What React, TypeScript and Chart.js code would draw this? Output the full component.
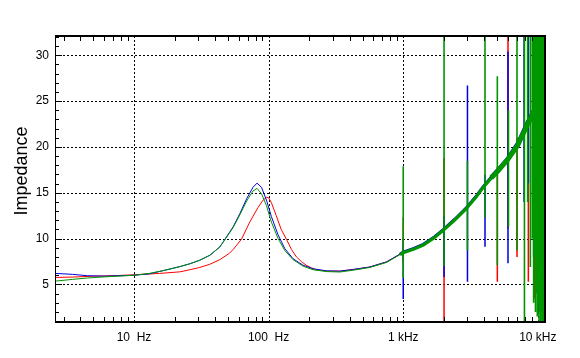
import { useEffect, useRef } from "react";
import { Chart, registerables } from "chart.js";

Chart.register(...registerables);

const X_MIN = 2.59;
const X_MAX = 11300;
const Y_MIN = 0.9;
const Y_MAX = 32.1;

const xTickValues = [10, 100, 1000, 10000];
const xTickLabels = ["10  Hz", "100  Hz", "1 kHz", "10 kHz"];
const yTickValues = [5, 10, 15, 20, 25, 30];
const yTitle = "Impedance";

// Red series (base curve)
const redFreq = [2.6, 3.5, 5, 7, 10, 15.5, 21.9, 26, 30.8, 36.6, 43.4, 51.2, 54.5, 63, 72.4, 83.5, 91, 96.4, 100, 105, 114, 124, 136, 148, 161, 175, 190, 208, 227, 270, 338, 425, 565, 753, 946, 1000, 1200, 1410, 1700, 1980, 2400, 2950, 3500, 3930, 4500, 5000, 5960, 7100, 8400, 9500, 11300];
const redZ = [5.76, 5.8, 5.9, 5.95, 6.05, 6.2, 6.37, 6.6, 6.85, 7.2, 7.7, 8.4, 8.8, 9.95, 11.8, 13.4, 14.2, 14.5, 14.45, 13.9, 12.5, 11.0, 9.9, 8.8, 8.0, 7.5, 7.1, 6.8, 6.6, 6.45, 6.45, 6.63, 6.9, 7.46, 8.3, 8.5, 8.9, 9.35, 10.1, 10.9, 12.0, 13.3, 14.6, 15.6, 16.6, 17.3, 18.6, 20.2, 22.5, 24.0, 26.0];

// Blue & green series share frequencies
const bgFreq = [2.6, 3.5, 4.5, 6, 8, 10, 13, 17, 22, 26, 30.8, 36.6, 43.4, 47.2, 54.5, 61.2, 68.7, 76.6, 82, 88.5, 96.4, 104.9, 117.6, 132, 152, 180, 214, 270, 338, 425, 565, 753, 946, 1000, 1200, 1410, 1700, 1980, 2400, 2950, 3500, 3930, 4500, 5000, 5960, 7100, 8400, 9500, 11300];
const blueZ = [6.2, 6.1, 5.95, 5.9, 5.95, 6.0, 6.15, 6.55, 6.95, 7.25, 7.64, 8.18, 9.09, 9.89, 11.28, 12.73, 14.35, 15.6, 16.05, 15.6, 14.2, 12.4, 10.4, 8.9, 7.8, 7.1, 6.7, 6.48, 6.45, 6.63, 6.9, 7.46, 8.3, 8.55, 8.95, 9.4, 10.2, 11.0, 12.1, 13.4, 14.7, 15.7, 16.7, 17.4, 18.7, 20.4, 22.7, 24.2, 26.0];
const greenZ = [5.36, 5.55, 5.7, 5.82, 5.92, 6.0, 6.2, 6.55, 6.95, 7.25, 7.64, 8.18, 9.09, 9.85, 11.2, 12.6, 14.1, 15.2, 15.47, 14.9, 13.6, 11.8, 10.0, 8.7, 7.7, 7.0, 6.6, 6.4, 6.35, 6.55, 6.85, 7.4, 8.25, 8.45, 8.85, 9.3, 10.1, 10.9, 12.0, 13.3, 14.6, 15.6, 16.6, 17.3, 18.6, 20.2, 22.5, 24.0, 26.0];

// Spikes: frequency, top value, bottom value
const redSpikeFreq = [1000, 2010, 5000, 6000, 7000, 8500, 9400, 10000, 10600, 11200];
const redSpikeHigh = [12.3, 18.8, 17.8, 32.5, 21, 24, 22, 20, 16, 14];
const redSpikeLow = [7.5, 0.5, 5.3, 11.1, 8.0, 5.3, 3.5, 6, 5, 0.5];

const blueSpikeFreq = [1000, 2010, 3000, 4050, 6000, 7900, 8500, 9300, 10200, 10900];
const blueSpikeHigh = [10, 12.5, 26.7, 17, 30.4, 32.5, 32.5, 32.5, 28, 22];
const blueSpikeLow = [3.4, 5.8, 5.3, 9.1, 7.3, 14, 16, 8, 2, 2];

const greenSpikeFreq = [1000, 2010, 3000, 4050, 5000, 6050, 7000, 7950, 8400, 8800, 9100, 9300, 9450, 9600, 9750, 9900, 10050, 10200, 10350, 10500, 10650, 10800, 10950, 11100, 11250];
const greenSpikeHigh = [17.9, 32.5, 18.5, 32.5, 27.7, 24, 32.5, 32.5, 32.5, 32.5, 32.5, 32.5, 32.5, 32.5, 32.5, 32.5, 32.5, 32.5, 32.5, 32.5, 32.5, 32.5, 32.5, 32.5, 32.5];
const greenSpikeLow = [5.7, 7.0, 8.7, 12.3, 7.1, 11.3, 8.7, 0.5, 14, 6.9, 10, 3, 8, 2, 4, 1.5, 3, 1, 2.5, 0.5, 2, 1, 0.5, 1.5, 0.5];

const RED = "#ff0000";
const BLUE = "#0000e0";
const GREEN = "#009600";
const FONT = "'Liberation Sans', Arial, sans-serif";

function curve(f: number[], z: number[]) {
  return f.map((v, i) => ({ x: v, y: z[i] }));
}
function spikes(f: number[], hi: number[], lo: number[]) {
  const out: { x: number; y: number | null }[] = [];
  f.forEach((v, i) => {
    out.push({ x: v, y: lo[i] }, { x: v, y: hi[i] }, { x: v, y: null });
  });
  return out;
}

const framePlugin = {
  id: "framePlugin",
  beforeDatasetsDraw(chart: any) {
    const { ctx, chartArea, scales } = chart;
    const { left, right, top, bottom } = chartArea;
    ctx.save();
    ctx.strokeStyle = "#000";
    ctx.lineWidth = 1;
    ctx.setLineDash([2, 2]);
    ctx.beginPath();
    for (const v of xTickValues) {
      const px = Math.round(scales.x.getPixelForValue(v)) + 0.5;
      ctx.moveTo(px, top);
      ctx.lineTo(px, bottom);
    }
    for (const v of yTickValues) {
      const py = Math.round(scales.y.getPixelForValue(v)) + 0.5;
      ctx.moveTo(left, py);
      ctx.lineTo(right, py);
    }
    ctx.stroke();
    ctx.restore();
  },
  afterDatasetsDraw(chart: any) {
    const { ctx, chartArea, scales } = chart;
    const { left, right, top, bottom } = chartArea;
    ctx.save();
    ctx.strokeStyle = "#000";
    ctx.lineWidth = 1;
    ctx.setLineDash([]);
    ctx.beginPath();
    for (let d = 1; d <= 10000; d *= 10) {
      for (let m = 2; m <= 9; m++) {
        const v = d * m;
        if (v < X_MIN || v > X_MAX) continue;
        const px = Math.round(scales.x.getPixelForValue(v)) + 0.5;
        ctx.moveTo(px, bottom);
        ctx.lineTo(px, bottom - 5);
        ctx.moveTo(px, top);
        ctx.lineTo(px, top + 5);
      }
    }
    for (let v = 1; v <= 32; v++) {
      const py = Math.round(scales.y.getPixelForValue(v)) + 0.5;
      ctx.moveTo(left, py);
      ctx.lineTo(left + (v % 5 === 0 ? 7 : 4), py);
    }
    ctx.stroke();
    ctx.lineWidth = 2;
    ctx.beginPath();
    ctx.moveTo(left, top);
    ctx.lineTo(right, top);
    ctx.lineTo(right, bottom);
    ctx.lineTo(left, bottom);
    ctx.stroke();
    ctx.lineWidth = 1;
    ctx.beginPath();
    ctx.moveTo(Math.round(left) + 0.5, top);
    ctx.lineTo(Math.round(left) + 0.5, bottom);
    ctx.stroke();
    ctx.fillStyle = "#000";
    ctx.font = `18px ${FONT}`;
    ctx.textAlign = "center";
    ctx.textBaseline = "middle";
    ctx.translate(22, 171);
    ctx.rotate(-Math.PI / 2);
    ctx.fillText(yTitle, 0, 0);
    ctx.restore();
  },
};

export default function App() {
  const ref = useRef<HTMLCanvasElement | null>(null);
  useEffect(() => {
    if (!ref.current) return;
    const hiWidth = (w1: number, w2: number) => (c: any) =>
      c.p0.parsed.x >= 4500 ? w2 : c.p0.parsed.x >= 880 ? w1 : undefined;
    const chart = new Chart(ref.current, {
      type: "line",
      data: {
        datasets: [
          { data: curve(bgFreq, greenZ), borderColor: GREEN, borderWidth: 1, order: 0, segment: { borderWidth: hiWidth(3.2, 5) } },
          { data: spikes(greenSpikeFreq, greenSpikeHigh, greenSpikeLow), borderColor: GREEN, borderWidth: 1.6, order: 1, spanGaps: false },
          { data: curve(bgFreq, blueZ), borderColor: BLUE, borderWidth: 1, order: 2, segment: { borderWidth: hiWidth(2.6, 4) } },
          { data: spikes(blueSpikeFreq, blueSpikeHigh, blueSpikeLow), borderColor: BLUE, borderWidth: 1.5, order: 3, spanGaps: false },
          { data: curve(redFreq, redZ), borderColor: RED, borderWidth: 1, order: 4, segment: { borderWidth: hiWidth(2.2, 3) } },
          { data: spikes(redSpikeFreq, redSpikeHigh, redSpikeLow), borderColor: RED, borderWidth: 1.5, order: 5, spanGaps: false },
        ] as any,
      },
      options: {
        responsive: false,
        animation: false,
        elements: { point: { radius: 0 }, line: { tension: 0, fill: false } },
        layout: { padding: { top: 36, right: 35, left: 0, bottom: 0 } },
        plugins: { legend: { display: false }, tooltip: { enabled: false } },
        scales: {
          x: {
            type: "logarithmic",
            min: X_MIN,
            max: X_MAX,
            grid: { display: false, drawTicks: false },
            border: { display: false },
            afterBuildTicks: (s: any) => {
              s.ticks = xTickValues.map((v) => ({ value: v }));
            },
            ticks: {
              autoSkip: false,
              maxRotation: 0,
              padding: 8,
              color: "#000",
              font: { family: FONT, size: 12 },
              callback: (v: any) => xTickLabels[xTickValues.indexOf(Number(v))] ?? "",
            },
            afterFit: (s: any) => {
              s.height = 36;
            },
          },
          y: {
            type: "linear",
            min: Y_MIN,
            max: Y_MAX,
            grid: { display: false, drawTicks: false },
            border: { display: false },
            afterBuildTicks: (s: any) => {
              s.ticks = yTickValues.map((v) => ({ value: v }));
            },
            ticks: {
              padding: 6,
              color: "#000",
              font: { family: FONT, size: 12 },
              callback: (v: any) => String(v),
            },
            afterFit: (s: any) => {
              s.width = 55;
            },
          },
        },
      } as any,
      plugins: [framePlugin],
    });
    return () => chart.destroy();
  }, []);
  return (
    <div style={{ position: "absolute", left: 0, top: 0, width: 580, height: 358, background: "#fff" }}>
      <canvas ref={ref} width={580} height={358} />
    </div>
  );
}
